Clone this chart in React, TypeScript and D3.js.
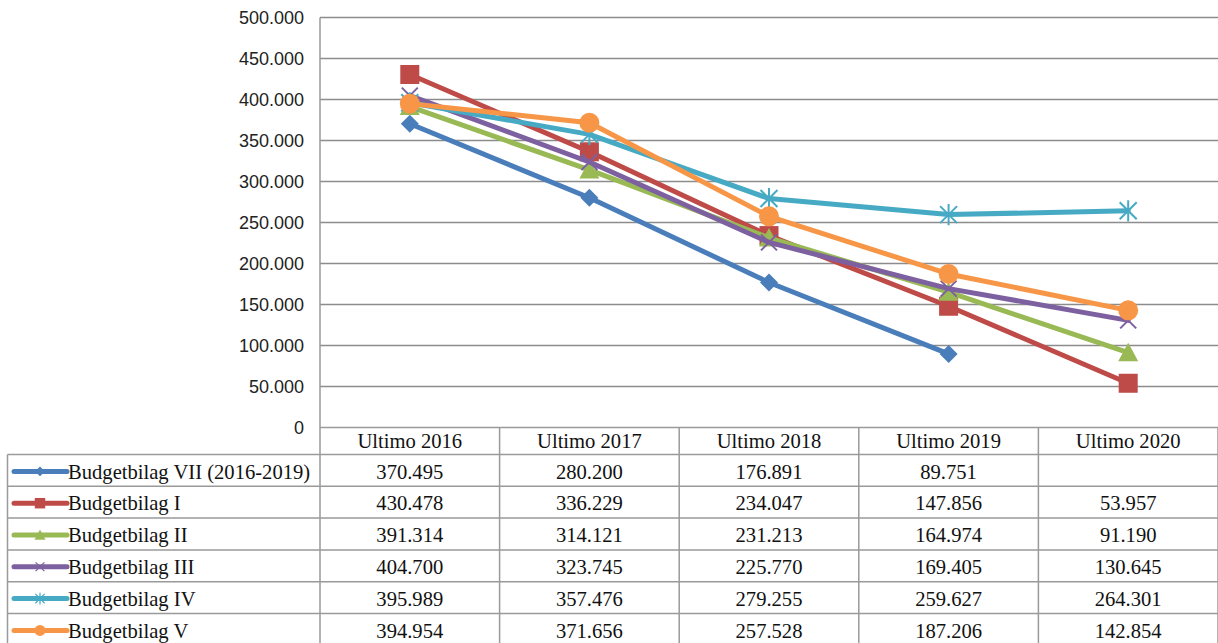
import React from 'react';
import * as d3 from 'd3';

// categories along the x axis / table header
const categories = ['Ultimo 2016', 'Ultimo 2017', 'Ultimo 2018', 'Ultimo 2019', 'Ultimo 2020'];

// series names (legend / table row labels)
const seriesNames = [
  'Budgetbilag VII (2016-2019)',
  'Budgetbilag I',
  'Budgetbilag II',
  'Budgetbilag III',
  'Budgetbilag IV',
  'Budgetbilag V',
];

// series values, null = no value
const budgetVII = [370495, 280200, 176891, 89751, null];
const budgetI = [430478, 336229, 234047, 147856, 53957];
const budgetII = [391314, 314121, 231213, 164974, 91190];
const budgetIII = [404700, 323745, 225770, 169405, 130645];
const budgetIV = [395989, 357476, 279255, 259627, 264301];
const budgetV = [394954, 371656, 257528, 187206, 142854];

const seriesValues = [budgetVII, budgetI, budgetII, budgetIII, budgetIV, budgetV];

// y axis ticks
const yTicks = [0, 50000, 100000, 150000, 200000, 250000, 300000, 350000, 400000, 450000, 500000];

const colors = ['#4a7ebb', '#be4b48', '#98b954', '#7d60a0', '#46aac5', '#f79646'];
const markerTypes = ['diamond', 'square', 'triangle', 'x', 'star', 'circle'];

const locale = d3.formatLocale({decimal: ',', thousands: '.', grouping: [3], currency: ['', '']});
const fmt = locale.format(',d');

const W = 1218;
const H = 643;
const plotLeft = 320;
const plotRight = 1218;
const plotTop = 17.5;
const plotBottom = 427.5;
const headerBottom = 454.5;
const rowH = 31.8;
const tableLeft = 7.5;

const serif = {fontFamily: '"Liberation Serif", "DejaVu Serif", serif'};
const sans = {fontFamily: '"Liberation Sans", Arial, sans-serif'};
const tableFont = 20.6;

// marker drawn around 0,0 ; s = scale
function Marker({type, color, s}: {type: string; color: string; s: number}) {
  if (type === 'diamond') {
    const r = 9 * s;
    return <path d={`M0,${-r}L${r},0L0,${r}L${-r},0Z`} fill={color} />;
  }
  if (type === 'square') {
    const r = 9.5 * s;
    return <rect x={-r} y={-r} width={2 * r} height={2 * r} fill={color} />;
  }
  if (type === 'triangle') {
    const r = 10 * s;
    return <path d={`M0,${-r}L${r},${r * 0.85}L${-r},${r * 0.85}Z`} fill={color} />;
  }
  if (type === 'x') {
    const r = 8 * s;
    return (
      <path d={`M${-r},${-r}L${r},${r}M${-r},${r}L${r},${-r}`} stroke={color} strokeWidth={2 * Math.max(s, 0.6)} fill="none" />
    );
  }
  if (type === 'star') {
    const r = 8.5 * s;
    return (
      <path
        d={`M${-r},${-r}L${r},${r}M${-r},${r}L${r},${-r}M0,${-r * 1.25}L0,${r * 1.25}`}
        stroke={color}
        strokeWidth={2 * Math.max(s, 0.6)}
        fill="none"
      />
    );
  }
  return <circle r={10 * s} fill={color} />;
}

export default function App() {
  const x = d3.scaleBand().domain(categories).range([plotLeft, plotRight]);
  const y = d3.scaleLinear().domain([0, 500000]).range([plotBottom, plotTop]);

  const cx = (c: string) => (x(c) as number) + x.bandwidth() / 2;

  const line = d3
    .line<number | null>()
    .defined((d) => d !== null)
    .x((d, i) => cx(categories[i]))
    .y((d) => y(d as number));

  const gridColor = '#8c8c8c';
  const tableColor = '#9a9a9a';
  const rowTop = (i: number) => headerBottom + i * rowH;

  return (
    <svg width={W} height={H} style={{position: 'absolute', left: 0, top: 0, background: '#fff'}}>
      {/* gridlines */}
      {yTicks.filter((t) => t > 0).map((t) => (
        <line key={t} x1={plotLeft} x2={plotRight} y1={y(t)} y2={y(t)} stroke={gridColor} strokeWidth={1.3} />
      ))}

      {/* y tick labels */}
      {yTicks.map((t) => (
        <text key={t} x={304} y={y(t)} dy="0.35em" textAnchor="end" style={sans} fontSize={18} fill="#222">
          {fmt(t)}
        </text>
      ))}

      {/* table grid */}
      <line x1={plotLeft} x2={plotLeft} y1={plotTop} y2={H} stroke={tableColor} strokeWidth={1.5} />
      <line x1={plotLeft} x2={plotRight} y1={plotBottom} y2={plotBottom} stroke={tableColor} strokeWidth={1.5} />
      {categories.map((c) => (
        <line key={c} x1={(x(c) as number) + x.bandwidth()} x2={(x(c) as number) + x.bandwidth()} y1={plotBottom} y2={H} stroke={tableColor} strokeWidth={1.5} />
      ))}
      <line x1={tableLeft} x2={tableLeft} y1={headerBottom} y2={H} stroke={tableColor} strokeWidth={1.5} />
      {seriesNames.map((n, i) => (
        <line key={n} x1={tableLeft} x2={plotRight} y1={rowTop(i)} y2={rowTop(i)} stroke={tableColor} strokeWidth={1.5} />
      ))}

      {/* header */}
      {categories.map((c) => (
        <text key={c} x={cx(c)} y={(plotBottom + headerBottom) / 2} dy="0.35em" textAnchor="middle" style={serif} fontSize={tableFont} fill="#111">
          {c}
        </text>
      ))}

      {/* table rows */}
      {seriesNames.map((n, i) => {
        const ym = rowTop(i) + rowH / 2 + 1;
        return (
          <g key={n}>
            <line x1={14} x2={67} y1={ym} y2={ym} stroke={colors[i]} strokeWidth={5} strokeLinecap="round" />
            <g transform={`translate(40,${ym})`}>
              <Marker type={markerTypes[i]} color={colors[i]} s={0.55} />
            </g>
            <text x={68} y={ym} dy="0.35em" style={serif} fontSize={tableFont} fill="#111">
              {n}
            </text>
            {seriesValues[i].map((v, j) =>
              v === null ? null : (
                <text key={j} x={cx(categories[j])} y={ym} dy="0.35em" textAnchor="middle" style={serif} fontSize={tableFont} fill="#111">
                  {fmt(v)}
                </text>
              )
            )}
          </g>
        );
      })}

      {/* series */}
      {seriesValues.map((vals, i) => (
        <g key={seriesNames[i]}>
          <path d={line(vals) || ''} fill="none" stroke={colors[i]} strokeWidth={5} strokeLinejoin="round" strokeLinecap="round" />
          {vals.map((v, j) =>
            v === null ? null : (
              <g key={j} transform={`translate(${cx(categories[j])},${y(v)})`}>
                <Marker type={markerTypes[i]} color={colors[i]} s={1} />
              </g>
            )
          )}
        </g>
      ))}
    </svg>
  );
}
